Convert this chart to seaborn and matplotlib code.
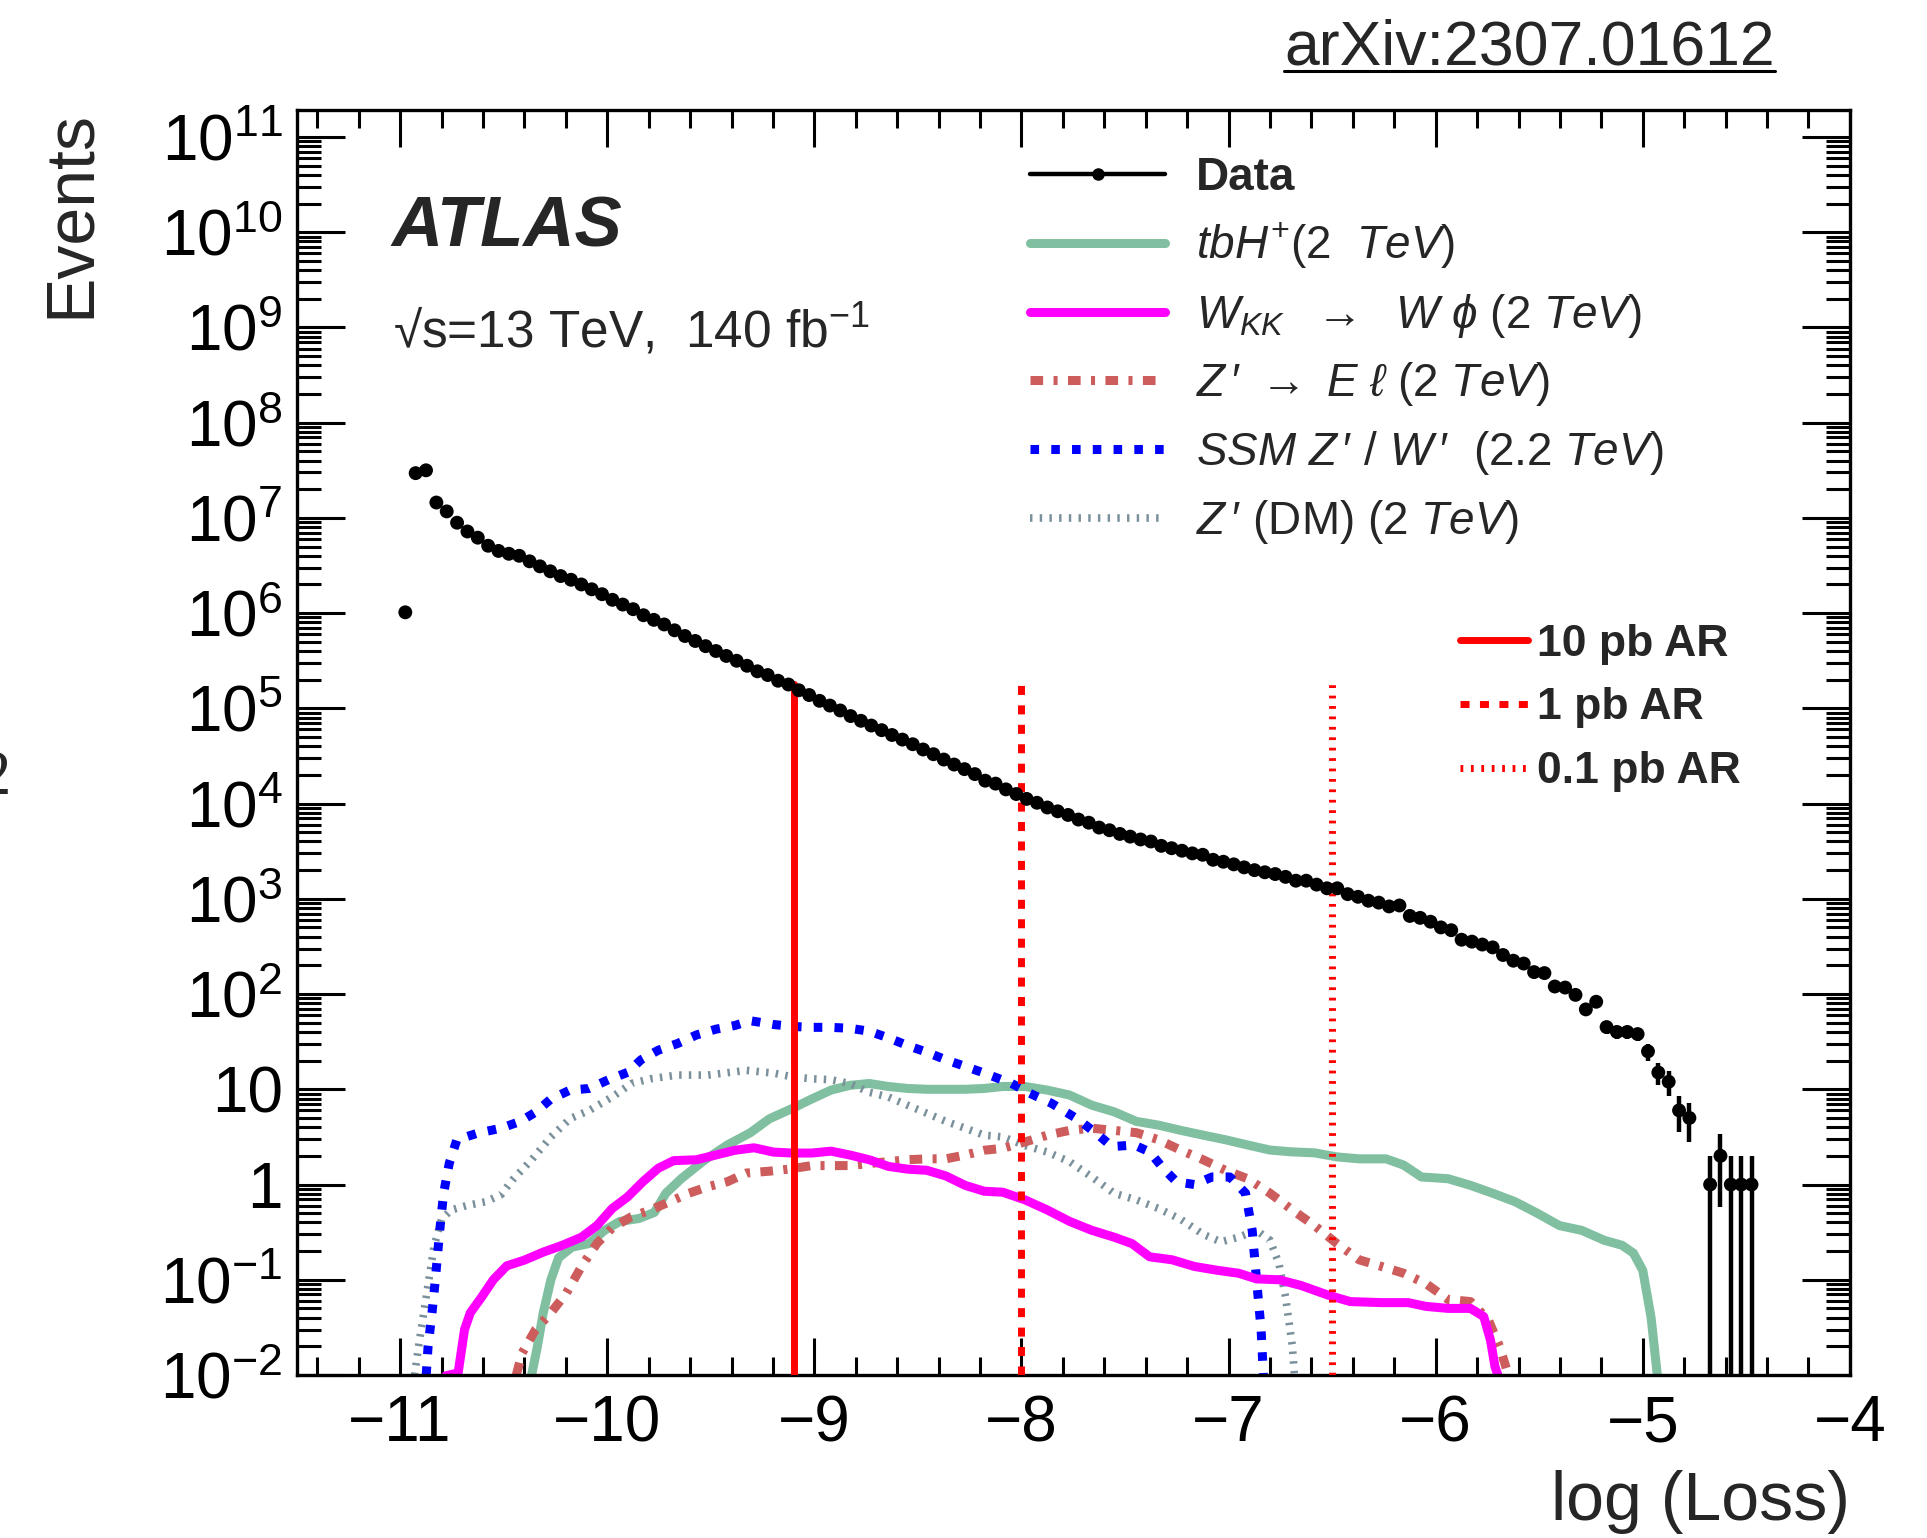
import numpy as np
import matplotlib
matplotlib.use("Agg")
import matplotlib.pyplot as plt
from matplotlib.lines import Line2D
from matplotlib.ticker import FixedLocator, FixedFormatter, MultipleLocator, LogLocator, NullFormatter
import seaborn as sns

# ---------------- data ----------------
BIN_FIRST_CENTER = -10.975
BIN_WIDTH = 0.05
data_counts = [1.02e6, 2.95e7, 3.16e7, 1.45e7, 1.17e7, 8.9e6, 7.2e6, 6.2e6, 5.1e6, 4.5e6,
               4.2e6, 4.0e6, 3.5e6, 3.1e6, 2.75e6, 2.45e6, 2.24e6, 2.0e6, 1.78e6, 1.58e6,
               1.38e6, 1.23e6, 1.10e6, 9.5e5, 8.5e5, 7.6e5, 6.6e5, 5.75e5, 5.1e5, 4.5e5,
               4.0e5, 3.55e5, 3.16e5, 2.8e5, 2.45e5, 2.24e5, 1.95e5, 1.78e5, 1.55e5, 1.38e5,
               1.2e5, 1.07e5, 9.5e4, 8.3e4, 7.4e4, 6.6e4, 5.9e4, 5.25e4, 4.7e4, 4.2e4,
               3.7e4, 3.3e4, 2.9e4, 2.57e4, 2.3e4, 2.04e4, 1.74e4, 1.62e4, 1.41e4, 1.26e4,
               1.12e4, 1.02e4, 9100, 8300, 7600, 6800, 6300, 5600, 5250, 4800,
               4500, 4200, 4000, 3600, 3400, 3200, 3000, 2900, 2570, 2450,
               2300, 2140, 2000, 1900, 1820, 1700, 1550, 1550, 1410, 1290,
               1290, 1120, 1050, 955, 912, 832, 851, 661, 631, 575,
               501, 468, 372, 355, 331, 309, 257, 224, 209, 170,
               166, 120, 117, 98, 69, 83, 45, 40, 40, 38,
               25, 15, 12, 6, 5, 0, 1, 2, 1, 1, 1]

tbh_x = [-10.365, -10.337, -10.309, -10.272, -10.235, -10.17, -10.087, -10.013, -9.939, -9.846,
         -9.772, -9.717, -9.643, -9.531, -9.42, -9.309, -9.217, -9.106, -9.013, -8.92,
         -8.828, -8.735, -8.643, -8.55, -8.457, -8.365, -8.272, -8.18, -8.09, -7.983,
         -7.875, -7.768, -7.66, -7.553, -7.445, -7.338, -7.23, -7.123, -7.015, -6.908,
         -6.80, -6.692, -6.585, -6.477, -6.37, -6.24, -6.155, -6.069, -5.94, -5.832,
         -5.725, -5.617, -5.51, -5.402, -5.295, -5.187, -5.10, -5.045, -5.0, -4.96, -4.93]
tbh_y = [0.01, 0.02, 0.045, 0.10, 0.17, 0.22, 0.24, 0.33, 0.41, 0.44,
         0.51, 0.81, 1.15, 1.8, 2.6, 3.5, 4.9, 6.3, 7.9, 9.8,
         11.0, 11.5, 10.7, 10.2, 10.0, 10.0, 10.0, 10.2, 10.7, 10.7,
         9.8, 8.7, 6.8, 5.8, 4.6, 4.2, 3.7, 3.3, 2.95, 2.6,
         2.3, 2.2, 2.15, 1.95, 1.86, 1.86, 1.6, 1.2, 1.15, 0.98,
         0.81, 0.66, 0.50, 0.37, 0.33, 0.26, 0.23, 0.19, 0.125, 0.04, 0.01]

wkk_x = [-10.78, -10.72, -10.689, -10.661, -10.606, -10.55, -10.485, -10.402, -10.309, -10.217,
         -10.124, -10.05, -9.976, -9.902, -9.828, -9.754, -9.68, -9.569, -9.476, -9.383,
         -9.291, -9.198, -9.106, -9.013, -8.92, -8.828, -8.735, -8.643, -8.55, -8.457,
         -8.365, -8.272, -8.18, -8.09, -7.983, -7.875, -7.768, -7.66, -7.553, -7.467,
         -7.381, -7.273, -7.166, -7.058, -6.951, -6.865, -6.757, -6.65, -6.52, -6.413,
         -6.262, -6.133, -6.047, -5.94, -5.832, -5.768, -5.735, -5.714, -5.70]
wkk_y = [0.0098, 0.0105, 0.03, 0.045, 0.066, 0.10, 0.14, 0.16, 0.195, 0.23,
         0.28, 0.37, 0.56, 0.74, 1.07, 1.48, 1.78, 1.82, 2.04, 2.29,
         2.43, 2.19, 2.14, 2.14, 2.24, 2.04, 1.82, 1.55, 1.45, 1.41,
         1.23, 0.98, 0.85, 0.83, 0.69, 0.54, 0.41, 0.33, 0.28, 0.24,
         0.174, 0.162, 0.138, 0.126, 0.117, 0.102, 0.10, 0.087, 0.069, 0.059,
         0.0575, 0.0575, 0.0525, 0.050, 0.050, 0.041, 0.023, 0.0123, 0.01]

zel_x = [-10.439, -10.411, -10.346, -10.272, -10.198, -10.124, -10.05, -9.976, -9.883, -9.791,
         -9.698, -9.606, -9.513, -9.42, -9.328, -9.217, -9.124, -9.013, -8.92, -8.828,
         -8.735, -8.643, -8.55, -8.457, -8.365, -8.272, -8.18, -8.09, -7.983, -7.875,
         -7.768, -7.66, -7.553, -7.445, -7.338, -7.23, -7.123, -7.015, -6.908, -6.80,
         -6.692, -6.585, -6.477, -6.37, -6.262, -6.155, -6.047, -5.94, -5.832, -5.746,
         -5.692, -5.649]
zel_y = [0.01, 0.017, 0.03, 0.045, 0.072, 0.138, 0.24, 0.35, 0.46, 0.54,
         0.66, 0.81, 0.95, 1.07, 1.32, 1.38, 1.45, 1.58, 1.58, 1.58,
         1.66, 1.74, 1.82, 1.86, 1.86, 2.04, 2.29, 2.4, 2.8, 3.3,
         3.7, 3.9, 3.7, 3.5, 2.95, 2.29, 1.82, 1.41, 1.15, 0.81,
         0.54, 0.37, 0.24, 0.162, 0.138, 0.117, 0.091, 0.062, 0.059, 0.038,
         0.02, 0.01]

ssm_x = [-10.874, -10.865, -10.846, -10.83, -10.81, -10.79, -10.763, -10.726, -10.624, -10.513,
         -10.42, -10.346, -10.272, -10.18, -10.087, -9.994, -9.9, -9.837, -9.754, -9.661,
         -9.569, -9.476, -9.383, -9.31, -9.198, -9.106, -9.013, -8.92, -8.828, -8.735,
         -8.643, -8.55, -8.457, -8.365, -8.272, -8.18, -8.047, -7.961, -7.854, -7.725,
         -7.628, -7.563, -7.456, -7.381, -7.316, -7.252, -7.166, -7.08, -6.994, -6.918,
         -6.886, -6.865, -6.843, -6.832]
ssm_y = [0.01, 0.02, 0.045, 0.10, 0.31, 0.81, 1.66, 2.95, 3.47, 3.9,
         4.6, 5.75, 7.9, 9.8, 10.2, 12.6, 15.1, 20.4, 25.7, 30.2,
         37.2, 42.7, 46.8, 52.5, 47.9, 45.7, 44.7, 44.7, 43.7, 40.7,
         34.7, 28.8, 24.5, 20.4, 17.4, 14.8, 11.5, 9.1, 7.1, 4.8,
         3.3, 2.5, 2.6, 2.2, 1.48, 1.07, 1.0, 1.2, 1.2, 0.81,
         0.33, 0.10, 0.03, 0.01]

zdm_x = [-10.93, -10.911, -10.874, -10.837, -10.80, -10.754, -10.68, -10.587, -10.513, -10.457,
         -10.365, -10.272, -10.18, -10.087, -9.976, -9.883, -9.79, -9.661, -9.513, -9.328,
         -9.198, -9.106, -9.013, -8.92, -8.828, -8.735, -8.643, -8.55, -8.457, -8.365,
         -8.272, -8.18, -8.09, -7.983, -7.875, -7.768, -7.66, -7.553, -7.445, -7.338,
         -7.23, -7.123, -7.037, -6.951, -6.865, -6.80, -6.757, -6.725, -6.692, -6.682]
zdm_y = [0.01, 0.02, 0.066, 0.22, 0.43, 0.54, 0.60, 0.66, 0.78, 1.12,
         1.82, 3.16, 4.9, 6.0, 8.3, 11.5, 12.9, 14.1, 14.1, 15.8,
         14.8, 13.5, 12.9, 12.6, 11.5, 9.3, 8.3, 6.8, 5.6, 4.6,
         3.9, 3.3, 3.16, 2.57, 2.19, 1.74, 1.2, 0.81, 0.69, 0.56,
         0.43, 0.30, 0.25, 0.28, 0.33, 0.26, 0.148, 0.066, 0.02, 0.01]

ar_x = [-9.1, -8.0, -6.5]
ar_top = [1.8e5, 1.8e5, 1.8e5]
ar_labels = ["10 pb AR", "1 pb AR", "0.1 pb AR"]

signal_labels = [r"$tbH^{+}$(2  $TeV$)",
                 r"$W_{KK}$  $\rightarrow$  $W\ \phi$ (2 $TeV$)",
                 r"$Z\,\prime$ $\rightarrow$ $E\ \ell$ (2 $TeV$)",
                 r"$SSM\ Z\,\prime$ / $W\,\prime$  (2.2 $TeV$)",
                 r"$Z\,\prime$ (DM) (2 $TeV$)"]

x_major = [-11, -10, -9, -8, -7, -6, -5, -4]
y_major_exp = list(range(-2, 12))

# ---------------- style ----------------
sns.set_theme(style="ticks")
plt.rcParams['font.family'] = ['Liberation Sans', 'DejaVu Sans']
plt.rcParams['mathtext.fontset'] = 'custom'
plt.rcParams['mathtext.rm'] = 'Liberation Sans'
plt.rcParams['mathtext.it'] = 'Liberation Sans:italic'
plt.rcParams['mathtext.bf'] = 'Liberation Sans:bold'
plt.rcParams['mathtext.sf'] = 'Liberation Sans'
plt.rcParams['mathtext.fallback'] = 'stixsans'
plt.rcParams['axes.linewidth'] = 2.4

fig = plt.figure(figsize=(19.27, 15.38), dpi=100)
fig.patch.set_facecolor('white')
ax = fig.add_axes([0.1539, 0.1060, 0.8061, 0.8222])
ax.set_facecolor('white')
ax.set_yscale('log', nonpositive='clip')
ax.set_xlim(-11.5, -4.0)
ax.set_ylim(0.01, 1.9e11)

GREEN = "#80bfa0"
MAGENTA = "#ff00ff"
BROWN = "#cd5c5c"
BLUE = "#0000ff"
GRAY = "#7a909b"
RED = "#ff0000"

LW_SIG = 6.5
ls_zel = (0, (1.4, 1.15, 0.45, 1.15))
ls_ssm = (0, (0.95, 1.35))
ls_zdm = (0, (0.32, 0.95))
ls_ar = ['-', (0, (1.3, 1.5)), (0, (0.4, 1.1))]

# signals
sns.lineplot(x=tbh_x, y=tbh_y, ax=ax, color=GREEN, linewidth=LW_SIG, sort=False, estimator=None, zorder=2)
sns.lineplot(x=zdm_x, y=zdm_y, ax=ax, color=GRAY, linewidth=5.5, sort=False, estimator=None,
             linestyle=ls_zdm, zorder=2)
sns.lineplot(x=zel_x, y=zel_y, ax=ax, color=BROWN, linewidth=LW_SIG, sort=False, estimator=None,
             linestyle=ls_zel, zorder=2)
sns.lineplot(x=ssm_x, y=ssm_y, ax=ax, color=BLUE, linewidth=LW_SIG, sort=False, estimator=None,
             linestyle=ls_ssm, zorder=2)
sns.lineplot(x=wkk_x, y=wkk_y, ax=ax, color=MAGENTA, linewidth=LW_SIG, sort=False, estimator=None, zorder=2)

# AR lines
for xv, top, ls in zip(ar_x, ar_top, ls_ar):
    ax.plot([xv, xv], [0.01, top], color=RED, lw=5, linestyle=ls, zorder=3)

# data
counts = np.array(data_counts, dtype=float)
centers = BIN_FIRST_CENTER + BIN_WIDTH * np.arange(len(counts))
mask = counts > 0
ax.errorbar(centers[mask], counts[mask], yerr=np.sqrt(counts[mask]), fmt='none',
            ecolor='black', elinewidth=3.2, capsize=0, zorder=5)
sns.scatterplot(x=centers[mask], y=counts[mask], ax=ax, color='black', s=100,
                edgecolor='none', linewidth=0, zorder=6, legend=False)

# ticks
ax.xaxis.set_major_locator(FixedLocator(x_major))
ax.xaxis.set_minor_locator(MultipleLocator(0.2))
ax.yaxis.set_major_locator(FixedLocator([10.0 ** e for e in y_major_exp]))
ylabels = []
for e in y_major_exp:
    if e == 0:
        ylabels.append("1")
    elif e == 1:
        ylabels.append("10")
    else:
        ylabels.append(r"$10^{%d}$" % e)
ax.yaxis.set_major_formatter(FixedFormatter(ylabels))
ax.yaxis.set_minor_locator(LogLocator(base=10, subs=np.arange(2, 10), numticks=300))
ax.yaxis.set_minor_formatter(NullFormatter())
ax.tick_params(axis='both', which='both', direction='in', top=True, right=True,
               color='black', width=2.2, labelsize=46, labelcolor='black')
ax.tick_params(axis='x', which='major', length=26.6, pad=14)
ax.tick_params(axis='x', which='minor', length=13)
ax.tick_params(axis='y', which='major', length=34.5, pad=10)
ax.tick_params(axis='y', which='minor', length=17)
for sp in ax.spines.values():
    sp.set_color('black')
    sp.set_linewidth(2.4)
ax.set_xlabel("")
ax.set_ylabel("")

# axis titles
fig.text(0.0368, 0.9285, "Events", rotation=90, ha='center', va='top', fontsize=49)
fig.text(0.960, 0.0117, "log (Loss)", ha='right', va='baseline', fontsize=49)

# ATLAS labels
fig.text(0.2029, 0.840, "ATLAS", fontsize=51, fontweight='bold', fontstyle='italic', ha='left', va='baseline')
fig.text(0.2040, 0.774, "\u221As=13 TeV,  140 fb$^{-1}$", fontsize=37, ha='left', va='baseline')

# arXiv tag
arx = fig.text(0.6663, 0.958, "arXiv:2307.01612", fontsize=45, ha='left', va='baseline')
fig.canvas.draw()
bb = arx.get_window_extent().transformed(fig.transFigure.inverted())
fig.add_artist(Line2D([bb.x0, bb.x1], [0.954, 0.954], color='black', lw=2.2, transform=fig.transFigure))

# stray partial glyph at the left edge
fig.text(-0.011, 0.484, "2", fontsize=45, family='Liberation Serif', ha='left', va='baseline')

# legend 1
h1 = [Line2D([], [], color='black', lw=3.2, marker='o', ms=8),
      Line2D([], [], color=GREEN, lw=LW_SIG),
      Line2D([], [], color=MAGENTA, lw=LW_SIG),
      Line2D([], [], color=BROWN, lw=LW_SIG, linestyle=ls_zel),
      Line2D([], [], color=BLUE, lw=LW_SIG, linestyle=ls_ssm),
      Line2D([], [], color=GRAY, lw=5.5, linestyle=ls_zdm)]
l1 = ["Data"] + signal_labels
leg1 = ax.legend(h1, l1, loc='upper left', bbox_to_anchor=(0.5345, 0.8985), bbox_transform=fig.transFigure,
                 frameon=False, fontsize=33, handlelength=2.95, handletextpad=0.68, labelspacing=0.45,
                 borderpad=0, borderaxespad=0)
leg1.get_texts()[0].set_fontweight('bold')
ax.add_artist(leg1)

# legend 2
h2 = [Line2D([], [], color=RED, lw=5, linestyle=ls) for ls in ls_ar]
leg2 = ax.legend(h2, ar_labels, loc='upper left', bbox_to_anchor=(0.7577, 0.5944), bbox_transform=fig.transFigure,
                 frameon=False, handlelength=1.53, handletextpad=0.2, labelspacing=0.51,
                 borderpad=0, borderaxespad=0, prop={'weight': 'bold', 'size': 32})

fig.savefig("out.png", dpi=100, facecolor='white')
